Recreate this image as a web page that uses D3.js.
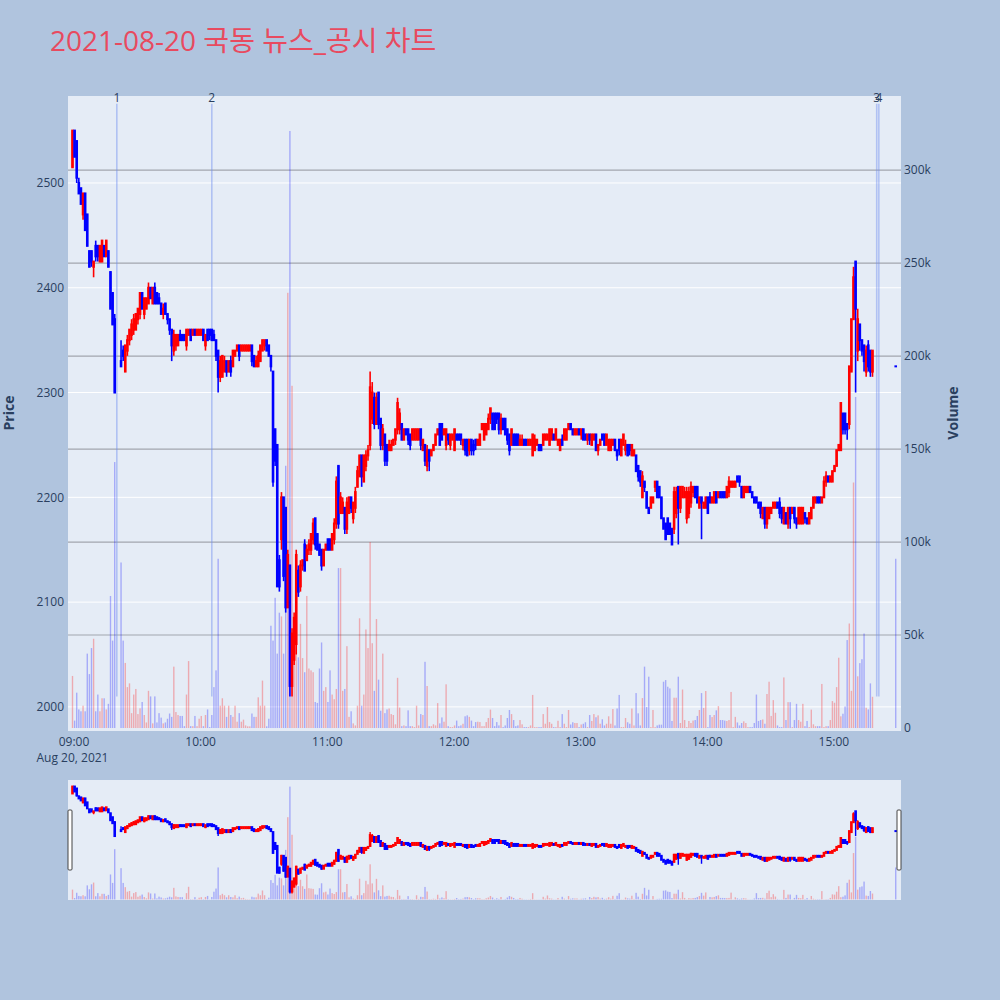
<!DOCTYPE html>
<html>
<head>
<meta charset="utf-8">
<script src="https://cdn.jsdelivr.net/npm/d3@7/dist/d3.min.js"></script>
<style>
html,body{margin:0;padding:0;background:#b0c4de;}
svg{display:block;font-family:"Open Sans","Noto Sans CJK KR",sans-serif;}
</style>
</head>
<body>
<svg id="chart" width="1000" height="1000"></svg>
<script>
// ---------------- data ----------------
const chartTitle = "2021-08-20 국동 뉴스_공시 차트";
const dateLabel = "Aug 20, 2021";
const sessionStart = [2021, 7, 20, 9, 0];   // first regular-session minute
const auctionTime = [2021, 7, 20, 15, 30];  // closing auction print

const openPrice = [2515,2550,2540,2500,2495,2470,2490,2470,2435,2435,2420,2440,2440,2425,2425,2440,2430,2435,2415,2395,2370,null,null,
2330,2340,2320,2340,2350,2355,2360,2360,2370,2375,2395,2375,2380,2385,2400,2385,2400,2395,2390,2385,2375,
2385,2375,2370,2360,2340,2345,2345,2355,2355,2355,2345,2355,2360,2355,2360,2355,2355,2355,2360,2345,2360,2360,2360,2355,2350,2340,
2315,2315,2320,2330,2320,2330,2325,2335,2340,2345,2340,2340,2340,2340,2340,2345,2335,2325,2325,2330,2340,2345,2350,2345,2335,
2320,2265,2250,2140,2160,2200,2190,2095,2135,2020,2045,2060,2130,2115,2135,2155,2140,2150,2150,2160,2180,2165,2155,2150,2135,2150,
2160,2160,2150,2160,2175,2230,2185,2185,2190,2170,2185,2200,2180,2190,2210,2220,2240,2215,2230,2240,
2250,2275,2295,2270,2300,2275,2250,2260,2250,2245,2245,2250,2255,2265,2265,2270,2255,2265,2265,2260,2255,2255,2255,2255,2265,2245,
2250,2230,2245,2240,2245,2250,2260,2270,2270,2260,2250,2260,2250,2255,2245,2260,2260,2260,2250,2255,2255,2245,
2255,2250,2255,2250,2250,2265,2255,2260,2265,2275,2280,2280,2280,2280,2265,2275,2275,2265,2260,2250,2260,2260,2260,2250,2250,2255,
2255,2250,2250,2240,2245,2250,2250,2250,2250,2255,2255,2250,2255,2260,2255,2250,2245,2255,2255,2255,2265,2270,2265,2260,2260,2265,
2260,2265,2260,2255,2260,2250,2255,2260,2245,2250,2260,2260,2250,2245,2245,2250,2255,2245,2255,2240,2250,2245,2250,2250,2240,2240,
2240,2230,2225,2200,2215,2205,2190,2190,2195,2210,2215,2210,2200,2180,2175,2180,2175,2170,2170,2185,2210,2190,2200,2200,
2180,2185,2195,2205,2210,2210,2190,2200,2190,2190,2200,2200,2195,2195,2205,2200,2205,2205,2205,2200,2205,2210,2210,2210,2220,2220,
2210,2200,2205,2205,2210,2205,2200,2200,2195,2195,2180,2190,2175,2180,2185,2190,2190,2195,2195,2190,2175,2185,2175,2190,2185,
2190,2180,2175,2175,2175,2185,2180,2175,2180,2190,2195,2200,2200,2195,2200,2215,2220,2215,2215,2225,2230,2245,2245,2280,2280,2270,
2270,2320,2370,2425,2340,2365,2350,2345,2320,2345,2340,2320,
2325];
const highPrice = [2550,2550,2540,2505,2495,2490,2490,2470,2435,2435,2425,2445,2440,2440,2445,2440,2445,2435,2415,2395,2375,null,null,
2350,2345,2345,2355,2360,2370,2375,2375,2380,2395,2395,2390,2390,2405,2400,2400,2405,2395,2395,2385,2385,
2385,2375,2370,2360,2360,2355,2355,2360,2355,2355,2360,2360,2360,2360,2360,2360,2360,2360,2360,2355,2360,2360,2360,2360,2350,2340,
2335,2335,2335,2330,2330,2335,2340,2340,2345,2345,2345,2345,2345,2345,2345,2345,2335,2335,2340,2345,2350,2350,2350,2345,2335,
2320,2265,2250,2145,2205,2200,2190,2150,2135,2075,2090,2150,2135,2140,2140,2160,2155,2160,2165,2180,2180,2165,2155,2150,2150,2155,
2160,2160,2165,2180,2220,2230,2205,2200,2190,2200,2200,2200,2195,2210,2230,2240,2240,2240,2245,2250,
2320,2310,2300,2300,2300,2275,2270,2260,2250,2255,2255,2255,2265,2295,2285,2270,2265,2265,2265,2260,2265,2265,2265,2265,2265,2255,
2250,2250,2245,2245,2250,2260,2265,2270,2270,2265,2265,2260,2260,2260,2265,2260,2260,2260,2255,2255,2255,2255,
2255,2255,2255,2255,2260,2270,2270,2270,2280,2285,2280,2280,2280,2280,2280,2275,2275,2265,2260,2265,2260,2260,2260,2260,2260,2255,
2255,2255,2255,2260,2260,2255,2250,2250,2260,2260,2260,2265,2265,2260,2265,2255,2255,2260,2265,2265,2270,2270,2265,2265,2265,2265,
2265,2265,2260,2260,2260,2260,2260,2260,2250,2255,2260,2260,2260,2255,2255,2255,2255,2245,2255,2255,2260,2255,2250,2250,2250,2245,
2240,2230,2225,2225,2215,2205,2190,2200,2200,2215,2215,2210,2200,2180,2175,2180,2175,2170,2210,2210,2210,2210,2210,2210,
2210,2210,2215,2210,2210,2210,2200,2200,2195,2200,2200,2205,2200,2205,2205,2205,2205,2205,2205,2210,2220,2215,2215,2215,2220,2220,
2210,2210,2210,2210,2210,2205,2200,2200,2195,2195,2190,2190,2190,2190,2190,2195,2195,2195,2200,2190,2190,2185,2190,2190,2190,
2190,2180,2190,2190,2190,2185,2180,2185,2190,2200,2200,2200,2200,2200,2220,2225,2220,2220,2225,2230,2245,2250,2290,2280,2280,2270,
2325,2370,2420,2425,2380,2365,2350,2345,2345,2350,2340,2340,
2325];
const lowPrice = [2515,2525,2500,2490,2480,2465,2455,2440,2420,2420,2410,2425,2425,2425,2425,2430,2430,2420,2380,2365,2300,null,null,
2325,2330,2320,2335,2345,2350,2355,2360,2365,2370,2380,2370,2380,2385,2390,2385,2385,2385,2385,2375,2370,
2375,2365,2355,2330,2335,2340,2345,2350,2350,2350,2340,2355,2350,2355,2355,2355,2355,2355,2350,2340,2350,2350,2350,2350,2330,2300,
2310,2315,2320,2315,2320,2315,2325,2335,2340,2330,2340,2340,2340,2340,2340,2325,2325,2325,2325,2330,2340,2340,2340,2335,2320,
2210,2230,2115,2110,2150,2120,2090,2095,2010,2010,2040,2050,2105,2110,2130,2130,2140,2145,2145,2155,2150,2150,2145,2130,2135,2150,
2150,2150,2150,2155,2170,2170,2185,2185,2165,2165,2185,2185,2175,2185,2210,2220,2210,2215,2225,2235,
2245,2270,2265,2270,2265,2245,2245,2230,2230,2245,2245,2250,2250,2260,2260,2255,2255,2260,2250,2245,2255,2255,2255,2255,2245,2245,
2230,2225,2225,2240,2245,2250,2260,2250,2255,2260,2245,2250,2245,2255,2245,2255,2255,2250,2245,2240,2240,2240,
2240,2240,2245,2250,2250,2265,2255,2260,2265,2270,2265,2265,2270,2260,2260,2265,2260,2250,2240,2250,2250,2250,2250,2250,2250,2250,
2250,2250,2250,2240,2245,2250,2245,2245,2250,2255,2255,2250,2255,2255,2255,2250,2245,2250,2255,2255,2265,2265,2260,2260,2260,2260,
2255,2255,2255,2250,2250,2250,2255,2245,2240,2250,2255,2250,2250,2245,2245,2250,2245,2235,2240,2240,2250,2240,2240,2240,2240,2240,
2225,2215,2210,2200,2205,2190,2185,2190,2195,2205,2200,2200,2180,2170,2160,2165,2165,2155,2165,2180,2155,2185,2200,2200,
2175,2180,2190,2200,2200,2195,2190,2160,2190,2190,2185,2195,2195,2195,2195,2200,2200,2200,2200,2200,2200,2210,2210,2210,2215,2210,
2200,2200,2205,2205,2205,2200,2195,2195,2190,2180,2180,2170,2170,2180,2185,2190,2190,2190,2180,2175,2175,2175,2170,2170,2185,
2175,2170,2175,2175,2175,2175,2175,2175,2180,2190,2195,2195,2195,2195,2200,2210,2215,2215,2215,2225,2230,2245,2245,2260,2260,2255,
2265,2320,2370,2300,2330,2340,2335,2320,2315,2320,2315,2315,
2325];
const closePrice = [2550,2525,2505,2490,2480,2490,2455,2440,2420,2425,2425,2430,2430,2440,2445,2430,2445,2420,2380,2365,2300,null,null,
2325,2335,2345,2350,2360,2365,2370,2375,2380,2395,2380,2390,2390,2400,2390,2400,2385,2385,2385,2375,2380,
2375,2370,2360,2345,2355,2355,2355,2350,2350,2350,2360,2360,2350,2360,2355,2360,2360,2360,2350,2355,2350,2355,2350,2350,2335,2315,
2330,2335,2330,2320,2330,2320,2340,2340,2345,2335,2345,2345,2345,2345,2345,2330,2325,2330,2335,2345,2350,2350,2340,2335,2325,
2215,2235,2115,2115,2200,2125,2095,2145,2020,2070,2085,2145,2110,2135,2140,2130,2150,2155,2165,2175,2155,2150,2145,2135,2150,2155,
2150,2150,2165,2175,2215,2175,2200,2195,2170,2195,2200,2190,2195,2205,2225,2240,2220,2240,2240,2245,
2305,2300,2270,2295,2270,2250,2265,2235,2235,2250,2250,2255,2265,2290,2280,2255,2265,2260,2255,2250,2265,2265,2265,2265,2250,2255,
2235,2245,2235,2245,2250,2260,2265,2250,2255,2265,2265,2255,2260,2260,2265,2255,2255,2255,2255,2245,2240,2255,
2245,2245,2250,2255,2260,2270,2270,2270,2275,2285,2265,2265,2275,2265,2275,2265,2260,2255,2245,2265,2250,2250,2250,2255,2255,2250,
2250,2255,2255,2260,2255,2255,2245,2245,2260,2260,2260,2265,2265,2255,2265,2255,2255,2250,2265,2265,2270,2265,2260,2265,2265,2260,
2265,2255,2255,2260,2255,2260,2260,2245,2250,2255,2255,2250,2260,2255,2255,2255,2245,2240,2245,2255,2260,2250,2240,2245,2250,2245,
2225,2220,2215,2220,2210,2190,2185,2200,2200,2215,2200,2200,2180,2170,2160,2165,2165,2155,2205,2205,2190,2210,2210,2205,
2205,2205,2210,2210,2200,2195,2200,2195,2195,2200,2185,2195,2200,2205,2195,2205,2200,2200,2200,2210,2215,2215,2215,2215,2215,2215,
2200,2210,2210,2210,2205,2200,2195,2195,2190,2185,2190,2175,2190,2190,2190,2195,2195,2190,2185,2180,2190,2175,2190,2180,2190,
2180,2175,2190,2190,2190,2180,2175,2185,2190,2200,2200,2195,2195,2200,2215,2220,2215,2220,2225,2230,2245,2250,2290,2265,2265,2265,
2325,2370,2410,2380,2370,2350,2340,2330,2340,2325,2320,2340,
2325];
// volume in thousands of shares, one bar per candle
const volumeK = [28,4,19,10,9,12,9,40,29,43,48,9,18,9,16,16,10,13,71,47,143,null,null,
89,47,35,22,24,8,18,21,7.5,10.6,14,7,3,20,17,2.5,17,3,8,5.6,2.5,
3,5,7.8,6,33,8.6,7,6.5,6.5,1,18,36,1,1,6.5,1,5,6.5,1,7,10,0.5,7,22,31,91,
12,16,12,6,12,7,6,12,3.4,8,3.4,4.5,1.4,0.9,0.9,7.8,6,6,16.5,12,25.5,12,0.9,5,55,
47,70,40,62,60,40,141,234,321,184,55,45,38,56,37.6,30,71,32,31,30,14,13.5,32,46,20,22,
14,31,18,15.5,21,86,86,20,21,44,6,9,2.5,1.4,12,59,12,18,53,43,
100,45.6,20,58.6,26,9.3,40,8,10,10.5,7.5,7,2,27,11,1,1.4,1,9.5,1,1,0.5,12,1.4,7.5,7,
35.6,22.6,1,1,2,1.4,13.4,2.5,5.7,3.4,23.5,1,0.5,0.5,1.4,4,1,1.4,2.3,6.3,6.8,6,
4,1,3.2,3.4,3.2,1,1,3.2,5.4,9.9,5.4,1,3.2,1.4,7,0.5,1.4,5.4,9.7,7.5,4.3,1,1.4,4.3,2,0.5,
0.5,0.5,1.4,17.8,0.5,0.5,0.5,0.5,7.5,2.3,11.3,3.2,2.3,0.5,0.5,3.9,0.5,7.5,2.3,0.5,9.7,1.9,3.1,2.7,2.7,0.5,
1.9,2.3,3.1,0.5,7,3.8,7.5,5.8,6.8,2.3,4.7,1.4,2.3,6.3,2.3,10.2,1.4,10.5,17.8,0.5,0.5,5.4,3.1,2.3,10.5,1.4,
18.8,7.9,1.4,16.1,33,11.3,27.6,0.5,9.7,0.5,1.4,1.8,1.8,24.9,25.8,22.2,21.3,3.8,16.3,16.3,27.6,2.7,20.7,4.3,
0.5,3.8,2.7,4,4.3,6.5,9.7,18.8,10.8,19.9,0.5,7,5.9,7,9.5,11.8,4.3,4.3,4,3.8,4.3,19.4,0.5,6,3,1.4,
2.7,3.6,2.7,0.5,0.5,0.5,2.7,18,3.8,4.3,4.6,2.3,18.3,24.9,6.5,15,8.2,1.4,0.5,0.5,27.2,4.3,13.9,13.9,0.5,
4.3,13,4.3,3.4,13,1,3.8,0.5,9.9,2,1,1,1,23.7,0.5,1,1,4.3,14.5,13.6,22,37.8,6.3,7.7,11.6,47.3,
56.2,20,132,178,27.8,34.9,37,50.8,10.9,10,24,16.8,
91];

const newsTimes = [[9,21],[10,6],[15,21],[15,22]];
const newsLabels = ["1","2","3","4"];
const priceTicks = [2000,2100,2200,2300,2400,2500];
const volumeTicks = [0,50,100,150,200,250,300];
const volumeTickLabels = ["0","50k","100k","150k","200k","250k","300k"];
const timeTickHours = [9,10,11,12,13,14,15];

// ---------------- layout ----------------
const W = 1000, H = 1000;
const P = {l:68, r:901, t:96, b:731};
const S = {l:68, r:901, t:780, b:900};
const UP = "#ff0000", DOWN = "#0000ff";
const TXT = "#2a3f5f";

const svg = d3.select("#chart");
svg.append("rect").attr("width",W).attr("height",H).attr("fill","#b0c4de");

const t0 = new Date(...sessionStart);
const nRegular = openPrice.length - 1;
const data = openPrice.map((o,i)=>({
  t: i < nRegular ? new Date(t0.getTime() + i*60000) : new Date(...auctionTime),
  o, h: highPrice[i], l: lowPrice[i], c: closePrice[i], v: volumeK[i]
})).filter(d => d.o !== null);

const xDomain = [new Date(t0.getTime() - 2.13*60000), new Date(t0.getTime() + 392.5*60000)];
const x = d3.scaleTime().domain(xDomain).range([P.l, P.r]);
const yP = d3.scaleLinear().domain([1977, 2583]).range([P.b, P.t]);
const yV = d3.scaleLinear().domain([-1.6, 339.8]).range([P.b, P.t]);
const xs = d3.scaleTime().domain(xDomain).range([S.l, S.r]);
const yPs = d3.scaleLinear().domain([1977, 2583]).range([S.b, S.t]);
const yVs = d3.scaleLinear().domain([-1.6, 339.8]).range([S.b, S.t]);

const defs = svg.append("defs");
defs.append("clipPath").attr("id","clipMain").append("rect")
  .attr("x",P.l).attr("y",P.t).attr("width",P.r-P.l).attr("height",P.b-P.t);
defs.append("clipPath").attr("id","clipSlider").append("rect")
  .attr("x",S.l).attr("y",S.t).attr("width",S.r-S.l).attr("height",S.b-S.t);

// title
svg.append("text").attr("x",50).attr("y",50.5).attr("font-size",28).attr("fill","#e84a5f")
  .text(chartTitle);

// plot background
svg.append("rect").attr("x",P.l).attr("y",P.t).attr("width",P.r-P.l).attr("height",P.b-P.t).attr("fill","#e5ecf6");

// grids
const grid = svg.append("g");
grid.selectAll(".gp").data(priceTicks).join("line")
  .attr("x1",P.l).attr("x2",P.r).attr("y1",d=>yP(d)).attr("y2",d=>yP(d))
  .attr("stroke","#ffffff").attr("stroke-width",1);
grid.selectAll(".gv").data(volumeTicks.filter(d=>d>0)).join("line")
  .attr("x1",P.l).attr("x2",P.r).attr("y1",d=>yV(d)).attr("y2",d=>yV(d))
  .attr("stroke","#a2a6ae").attr("stroke-width",1.2);

function drawVolume(g, xsc, ysc, w) {
  g.selectAll("rect.v").data(data.filter(d=>d.v!==null)).join("rect").attr("class","v")
    .attr("x",d=>xsc(d.t)-w/2).attr("width",w)
    .attr("y",d=>ysc(d.v)).attr("height",d=>Math.max(0, ysc(0)-ysc(d.v)))
    .attr("fill",d=>d.c>d.o?UP:DOWN).attr("fill-opacity",0.28);
}
function drawCandles(g, xsc, ysc, bodyW, wickW) {
  const c = g.selectAll("g.c").data(data).join("g").attr("class","c");
  c.append("line")
    .attr("x1",d=>xsc(d.t)).attr("x2",d=>xsc(d.t))
    .attr("y1",d=>ysc(d.h)).attr("y2",d=>ysc(d.l))
    .attr("stroke",d=>d.c>d.o?UP:DOWN).attr("stroke-width",wickW);
  c.append("rect")
    .attr("x",d=>xsc(d.t)-bodyW/2).attr("width",bodyW)
    .attr("y",d=>Math.min(ysc(d.o),ysc(d.c))-1)
    .attr("height",d=>Math.abs(ysc(d.o)-ysc(d.c))+2)
    .attr("fill",d=>d.c>d.o?UP:DOWN);
}

// main volume
const gMain = svg.append("g").attr("clip-path","url(#clipMain)");
drawVolume(gMain.append("g"), x, yV, 1.4);

// news lines
const newsData = newsTimes.map((hm,i)=>({t:new Date(2021,7,20,hm[0],hm[1]), label:newsLabels[i]}));
gMain.append("g").selectAll("line").data(newsData).join("line")
  .attr("x1",d=>x(d.t)).attr("x2",d=>x(d.t))
  .attr("y1",yP(2575.5)).attr("y2",yP(2010))
  .attr("stroke","#6f8ff0").attr("stroke-opacity",0.45).attr("stroke-width",1.6);

drawCandles(gMain.append("g"), x, yP, 2.6, 1.6);

svg.append("g").selectAll("text").data(newsData).join("text")
  .attr("x",d=>x(d.t)).attr("y",101.5).attr("text-anchor","middle")
  .attr("font-size",12).attr("fill",TXT).text(d=>d.label);

// axes
const axL = svg.append("g");
axL.selectAll("text").data(priceTicks).join("text")
  .attr("x",64).attr("y",d=>yP(d)+4.3).attr("text-anchor","end")
  .attr("font-size",12).attr("fill",TXT).text(d=>d);
const axR = svg.append("g");
axR.selectAll("text").data(volumeTicks).join("text")
  .attr("x",904).attr("y",d=>yV(d)+4.3).attr("text-anchor","start")
  .attr("font-size",12).attr("fill",TXT).text((d,i)=>volumeTickLabels[i]);
const timeTicks = timeTickHours.map(h=>new Date(2021,7,20,h,0));
const fmt = d3.timeFormat("%H:%M");
const axB = svg.append("g");
axB.selectAll("text").data(timeTicks).join("text")
  .attr("x",d=>x(d)+1.5).attr("y",746).attr("text-anchor","middle")
  .attr("font-size",12).attr("fill",TXT).text(d=>fmt(d));
axB.append("text").attr("x",x(timeTicks[0])).attr("y",762).attr("text-anchor","middle")
  .attr("font-size",12).attr("fill",TXT).text(dateLabel);

svg.append("text").attr("transform","translate(14,413) rotate(-90)").attr("text-anchor","middle")
  .attr("font-size",14).attr("font-weight","bold").attr("fill",TXT).text("Price");
svg.append("text").attr("transform","translate(958,413) rotate(-90)").attr("text-anchor","middle")
  .attr("font-size",14).attr("font-weight","bold").attr("fill",TXT).text("Volume");

// range slider
svg.append("rect").attr("x",S.l).attr("y",S.t).attr("width",S.r-S.l).attr("height",S.b-S.t).attr("fill","#e5ecf6");
const gS = svg.append("g").attr("clip-path","url(#clipSlider)");
drawVolume(gS.append("g"), xs, yVs, 1.4);
drawCandles(gS.append("g"), xs, yPs, 2.6, 1.4);
[S.l+2, S.r-2].forEach(hx=>{
  svg.append("rect").attr("x",hx-2).attr("y",810).attr("width",4).attr("height",60)
    .attr("fill","#ffffff").attr("stroke","#444").attr("stroke-width",1).attr("rx",1);
});
</script>
</body>
</html>
